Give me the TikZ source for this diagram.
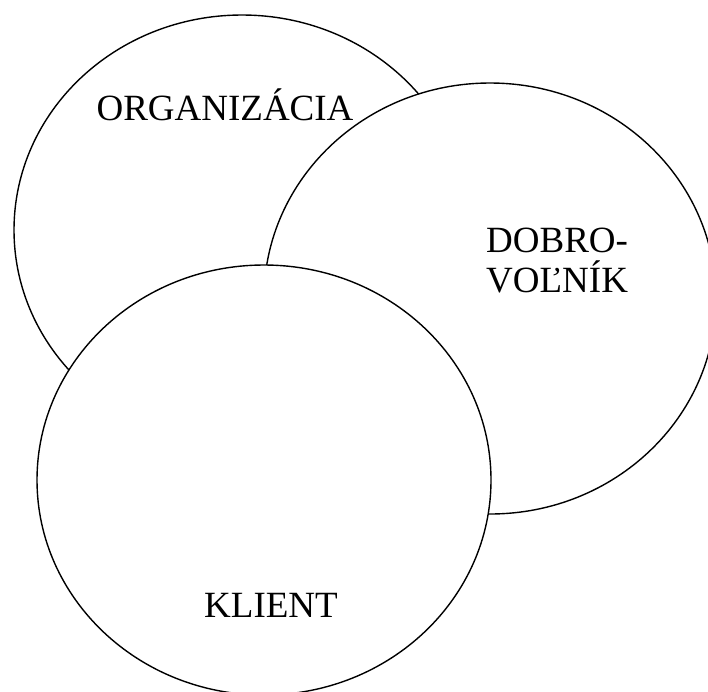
\documentclass[tikz,border=0pt]{standalone}
\usepackage{fontspec}
\setmainfont{Liberation Serif}
\usetikzlibrary{shapes.geometric}
\begin{document}
\begin{tikzpicture}[x=1pt,y=-1pt,
  setbox/.style={ellipse, draw=black, fill=white, line width=1.4pt, inner sep=0pt, outer sep=0pt},
  lbl/.style={font=\fontsize{37}{40}\selectfont, inner sep=0pt}]
\useasboundingbox (0,0) rectangle (708,691);
\clip (0,0) rectangle (708,691);
\fill[white] (0,0) rectangle (708,691);
\node[setbox, minimum width=456pt, minimum height=430pt] (org) at (242,230) {};
\node[setbox, minimum width=452pt, minimum height=431pt] (dob) at (490,298.5) {};
\node[setbox, minimum width=454pt, minimum height=430pt] (kli) at (264,480) {};
\node[lbl, anchor=base] (torg) at (225,120) {ORGANIZÁCIA};
\node[lbl, anchor=base west, align=left] (tdob) at (486,292) {DOBRO-\\VOĽNÍK};
\node[lbl, anchor=base] (tkli) at (271,617) {KLIENT};
\end{tikzpicture}
\end{document}
